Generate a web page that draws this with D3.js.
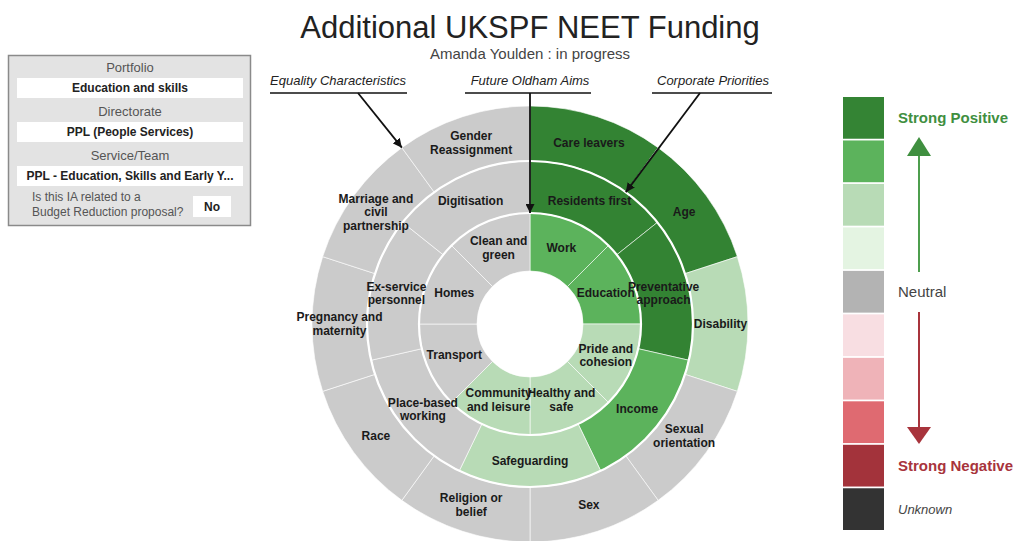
<!DOCTYPE html>
<html>
<head>
<meta charset="utf-8">
<script src="https://cdn.jsdelivr.net/npm/d3@7"></script>
<style>
	body { margin: 0; background: #fff; font-family: 'Liberation Sans', Arial, sans-serif; }
	svg text { font-family: 'Liberation Sans', Arial, sans-serif; }
	.segLabel { font-size: 12px; font-weight: bold; fill: #1a1a1a; }
</style>
</head>
<body>
<script>
// rings, from the centre out. score: 3 strong, 2 positive, 1 slight, 0 neutral
const aimsLabels = ['Work', 'Education', 'Pride and\ncohesion', 'Healthy and\nsafe', 'Community\nand leisure', 'Transport', 'Homes', 'Clean and\ngreen'];
const aimsScores = [2, 2, 1, 1, 1, 0, 0, 0];

const priorityLabels = ['Residents first', 'Preventative\napproach', 'Income', 'Safeguarding', 'Place-based\nworking', 'Ex-service\npersonnel', 'Digitisation'];
const priorityScores = [3, 3, 2, 1, 0, 0, 0];

const equalityLabels = ['Care leavers', 'Age', 'Disability', 'Sexual\norientation', 'Sex', 'Religion or\nbelief', 'Race', 'Pregnancy and\nmaternity', 'Marriage and\ncivil\npartnership', 'Gender\nReassignment'];
const equalityScores = [3, 3, 1, 0, 0, 0, 0, 0, 0, 0];

const legendColors = ['#348434', '#5cb35c', '#b8dbb6', '#e4f4e2', '#b3b3b3', '#f8dee2', '#efb3b8', '#df6a71', '#a3333b', '#333333'];
const legendLabels = [
	{i: 0, text: 'Strong Positive', cls: 'pos'},
	{i: 4, text: 'Neutral', cls: 'neu'},
	{i: 8, text: 'Strong Negative', cls: 'neg'},
	{i: 9, text: 'Unknown', cls: 'unk'}
];

const infoFields = [
	{title: 'Portfolio', value: 'Education and skills'},
	{title: 'Directorate', value: 'PPL (People Services)'},
	{title: 'Service/Team', value: 'PPL - Education, Skills and Early Y...'}
];

const W = 1018, H = 541;
const cx = 530, cy = 324;

const svg = d3.select('body').append('svg').attr('width', W).attr('height', H);

const defs = svg.append('defs');
function marker(id, color) {
	defs.append('marker').attr('id', id)
		.attr('viewBox', '0 0 10 10').attr('refX', 10).attr('refY', 5)
		.attr('markerWidth', 5).attr('markerHeight', 5)
		.attr('markerUnits', 'strokeWidth').attr('orient', 'auto')
		.append('path').attr('d', 'M0,0L10,5L0,10Z').attr('fill', color);
}
marker('arrBlack', '#111');

// title
svg.append('text').attr('x', cx).attr('y', 38).attr('text-anchor', 'middle')
	.style('font-size', '31px').style('fill', '#222').text('Additional UKSPF NEET Funding');
svg.append('text').attr('x', cx).attr('y', 59).attr('text-anchor', 'middle')
	.style('font-size', '15px').style('fill', '#444').text('Amanda Youlden : in progress');

// sunburst
const fill = d3.scaleOrdinal().domain([3, 2, 1, 0]).range(['#338333', '#5cb35c', '#b8dbb6', '#cbcbcb']);
const rings = [
	{labels: aimsLabels, scores: aimsScores, r0: 53, r1: 111},
	{labels: priorityLabels, scores: priorityScores, r0: 111, r1: 163},
	{labels: equalityLabels, scores: equalityScores, r0: 163, r1: 218}
];
const pie = d3.pie().sort(null).value(1);
const chart = svg.append('g').attr('transform', `translate(${cx},${cy})`);

rings.forEach(ring => {
	const arc = d3.arc().innerRadius(ring.r0).outerRadius(ring.r1);
	const data = pie(ring.labels.map((l, i) => ({label: l, score: ring.scores[i]})));
	const g = chart.append('g');
	g.selectAll('path').data(data).enter().append('path')
		.attr('d', arc)
		.attr('fill', d => fill(d.data.score))
		.attr('stroke', '#fff').attr('stroke-opacity', 0.6).attr('stroke-width', 1);
	ring.arc = arc;
	ring.data = data;
});

// white ring separators
chart.selectAll('circle.sep').data([111, 163]).enter().append('circle')
	.attr('r', d => d).attr('fill', 'none').attr('stroke', '#fff').attr('stroke-width', 2.2);

// labels
rings.forEach(ring => {
	const mid = (ring.r0 + ring.r1) / 2;
	const lab = d3.arc().innerRadius(mid).outerRadius(mid);
	chart.append('g').selectAll('text').data(ring.data).enter().append('text')
		.attr('class', 'segLabel')
		.attr('text-anchor', 'middle')
		.attr('transform', d => `translate(${lab.centroid(d)})`)
		.each(function (d) {
			const lines = d.data.label.split('\n');
			const t = d3.select(this);
			lines.forEach((l, i) => {
				t.append('tspan').attr('x', 0)
					.attr('y', (i - (lines.length - 1) / 2) * 13.5 + 4)
					.text(l);
			});
		});
});

// annotations
function polar(r, deg) {
	const a = deg * Math.PI / 180;
	return [cx + r * Math.sin(a), cy - r * Math.cos(a)];
}
const notes = [
	{text: 'Equality Characteristics', x: 338, x0: 270, x1: 407, from: 358, to: polar(218, 324)},
	{text: 'Future Oldham Aims', x: 530, x0: 465, x1: 591, from: 530, to: polar(111, 0)},
	{text: 'Corporate Priorities', x: 713, x1: 772, x0: 652, from: 700, to: polar(163, 36)}
];
const ann = svg.append('g');
notes.forEach(n => {
	ann.append('text').attr('x', n.x).attr('y', 85).attr('text-anchor', 'middle')
		.style('font-size', '13px').style('font-style', 'italic').style('fill', '#222').text(n.text);
	ann.append('line').attr('x1', n.x0).attr('x2', n.x1).attr('y1', 93).attr('y2', 93)
		.attr('stroke', '#111').attr('stroke-width', 1.5);
	ann.append('line').attr('x1', n.from).attr('y1', 93).attr('x2', n.to[0]).attr('y2', n.to[1])
		.attr('stroke', '#111').attr('stroke-width', 1.8).attr('marker-end', 'url(#arrBlack)');
});

// info box
const info = svg.append('g');
info.append('rect').attr('x', 8.5).attr('y', 55.5).attr('width', 242).attr('height', 170)
	.attr('fill', '#e3e3e3').attr('stroke', '#8a8a8a').attr('stroke-width', 1.5);
infoFields.forEach((f, i) => {
	const y = 55 + i * 44;
	info.append('text').attr('x', 130).attr('y', y + 17).attr('text-anchor', 'middle')
		.style('font-size', '13px').style('fill', '#555').text(f.title);
	info.append('rect').attr('x', 17).attr('y', y + 23).attr('width', 226).attr('height', 20).attr('fill', '#fff');
	info.append('text').attr('x', 130).attr('y', y + 37).attr('text-anchor', 'middle')
		.style('font-size', '12px').style('font-weight', 'bold').style('fill', '#222').text(f.value);
});
info.append('text').attr('x', 32).attr('y', 201).style('font-size', '12px').style('fill', '#555').text('Is this IA related to a');
info.append('text').attr('x', 32).attr('y', 216).style('font-size', '12px').style('fill', '#555').text('Budget Reduction proposal?');
info.append('rect').attr('x', 193).attr('y', 196).attr('width', 38).attr('height', 21).attr('fill', '#fff');
info.append('text').attr('x', 212).attr('y', 211).attr('text-anchor', 'middle')
	.style('font-size', '12px').style('font-weight', 'bold').style('fill', '#222').text('No');

// legend
const ly = d3.scaleBand().domain(d3.range(legendColors.length)).range([97, 530]).paddingInner(0.04);
const legend = svg.append('g');
legend.selectAll('rect').data(legendColors).enter().append('rect')
	.attr('x', 843).attr('y', (d, i) => ly(i)).attr('width', 41).attr('height', ly.bandwidth())
	.attr('fill', d => d);
const labStyle = {
	pos: {fill: '#3f8f3f', weight: 'bold', style: 'normal', size: '15px'},
	neu: {fill: '#444', weight: 'normal', style: 'normal', size: '15px'},
	neg: {fill: '#a8343c', weight: 'bold', style: 'normal', size: '15px'},
	unk: {fill: '#444', weight: 'normal', style: 'italic', size: '13px'}
};
legend.selectAll('text').data(legendLabels).enter().append('text')
	.attr('x', 898).attr('y', d => ly(d.i) + ly.bandwidth() / 2 + 5)
	.style('font-size', d => labStyle[d.cls].size)
	.style('font-weight', d => labStyle[d.cls].weight)
	.style('font-style', d => labStyle[d.cls].style)
	.style('fill', d => labStyle[d.cls].fill)
	.text(d => d.text);

// arrows in the legend
legend.append('line').attr('x1', 919).attr('x2', 919).attr('y1', 272).attr('y2', 152)
	.attr('stroke', '#4e9e4e').attr('stroke-width', 2);
legend.append('path').attr('d', 'M907,156L919,137L931,156Z').attr('fill', '#3f8f3f');
legend.append('line').attr('x1', 919).attr('x2', 919).attr('y1', 312).attr('y2', 430)
	.attr('stroke', '#a8343c').attr('stroke-width', 2);
legend.append('path').attr('d', 'M907,427L919,444L931,427Z').attr('fill', '#a8343c');
</script>
</body>
</html>
